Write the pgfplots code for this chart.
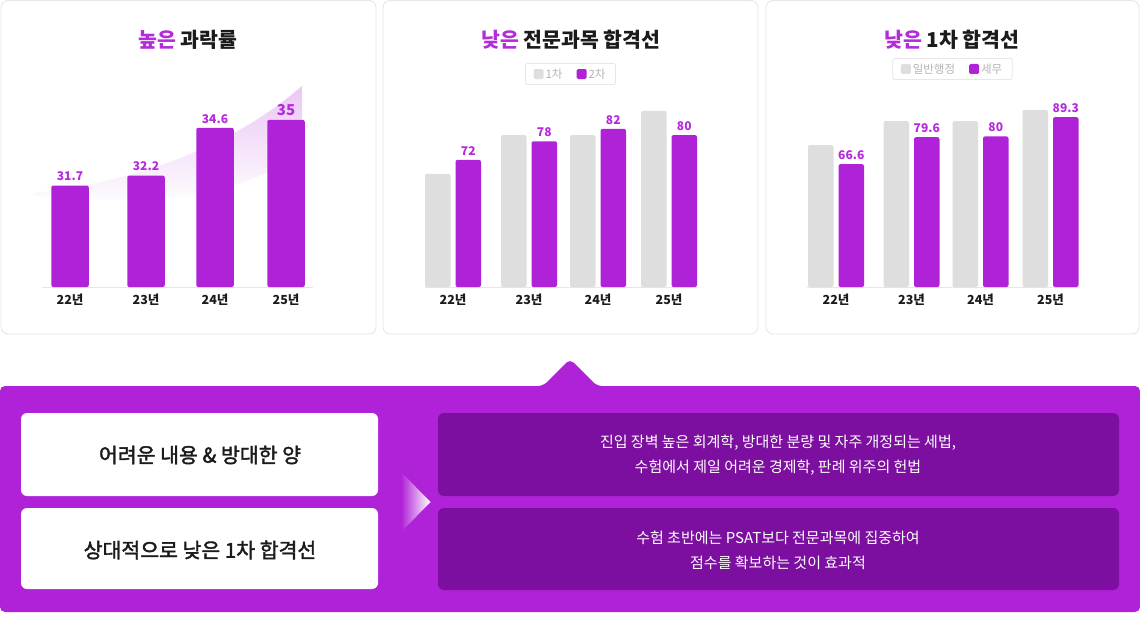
\documentclass[border=0pt]{standalone}
\usepackage{fontspec}
\setmainfont{Noto Sans CJK KR}
\newfontfamily\krmed[FakeBold=1.8]{Noto Sans CJK KR}
\usepackage{pgfplots}
\pgfplotsset{compat=1.18}
\definecolor{pp}{HTML}{B022D8}
\definecolor{ppt}{HTML}{B42BDC}
\definecolor{dk}{HTML}{7C0F9F}
\definecolor{gb}{HTML}{DEDEDE}
\definecolor{bd}{HTML}{E6E6EC}
\definecolor{txt}{HTML}{1B1B1B}
\definecolor{lg}{HTML}{B4B4B4}
\newcommand\fs[1]{\fontsize{#1}{#1}\selectfont}
\DeclareRobustCommand\bignum[1]{{\fontsize{15}{15}\selectfont #1}}

\pgfplotsset{
 panel/.style={
  scale only axis, height=200pt, anchor=south west,
  axis x line=bottom, axis y line=none,
  x axis line style={draw=bd, line width=0.8pt, -},
  major tick length=0pt, ytick=\empty,
  xticklabel style={font=\bfseries\fs{12.5}, text=txt, yshift=-3pt},
  ybar, nodes near coords, point meta=explicit symbolic,
  every node near coord/.append style={font=\bfseries\fs{12}, text=ppt, yshift=1pt},
 },
 mylegend/.style={
  legend style={at={(axis description cs:0.535,#1)}, anchor=center, draw=bd, line width=0.8pt,
   rounded corners=2pt, fill=white, legend columns=2, font=\fs{11.5}, text=lg,
   inner xsep=8pt, inner ysep=3pt,
   /tikz/every even column/.append style={column sep=12pt}},
 },
 sqgray/.style={legend image code/.code={\fill[gb, rounded corners=1.5pt] (0pt,-5pt) rectangle (10pt,5pt);}},
 sqpurple/.style={legend image code/.code={\fill[pp, rounded corners=1.5pt] (0pt,-5pt) rectangle (10pt,5pt);}},
}

\begin{document}
\begin{tikzpicture}
\begin{scope}[x=1pt,y=-1pt]
\path (0,0) rectangle (1140,618);
% panels
\foreach \a/\b in {1/376,383/758,766/1139}
  \draw[bd, line width=0.9pt, fill=white, rounded corners=7pt] (\a,0.5) rectangle (\b,334);
% swoosh
\shade[top color=pp!60, bottom color=white, opacity=0.42]
  (33,193) .. controls (150,180) and (240,140) .. (302,86) -- (302,150)
  .. controls (240,200) and (150,206) .. (33,196) -- cycle;
% titles
\node[font=\bfseries\fs{20.5}, text=txt] at (188,40) {{\color{ppt}높은} 과락률};
\node[font=\bfseries\fs{20.5}, text=txt] at (571,40) {{\color{ppt}낮은} 전문과목 합격선};
\node[font=\bfseries\fs{20.5}, text=txt] at (952,40) {{\color{ppt}낮은} 1차 합격선};
% bottom section
\fill[pp, rounded corners=5pt] (0,386) -- (543,386) -- (570,359) -- (597,386) -- (1140,386)
  -- (1140,612) -- (0,612) -- cycle;
\fill[white, rounded corners=6pt] (21,413) rectangle (378,496);
\fill[white, rounded corners=6pt] (21,508) rectangle (378,589);
\fill[dk, rounded corners=6pt] (438,413) rectangle (1119,496);
\fill[dk, rounded corners=6pt] (438,508) rectangle (1119,590);
\shade[left color=pp, right color=white] (401,472) -- (430.5,502) -- (401,532) -- cycle;
\node[font=\krmed\fs{20.5}, text=txt] at (200,455) {어려운 내용 \& 방대한 양};
\node[font=\krmed\fs{20.5}, text=txt] at (200,550) {상대적으로 낮은 1차 합격선};
\node[font=\fontsize{15}{25}\selectfont, text=white, align=center] at (778,455.5)
  {진입 장벽 높은 회계학, 방대한 분량 및 자주 개정되는 세법,\\수험에서 제일 어려운 경제학, 판례 위주의 헌법};
\node[font=\fontsize{15}{25}\selectfont, text=white, align=center] at (778,550)
  {수험 초반에는 PSAT보다 전문과목에 집중하여\\점수를 확보하는 것이 효과적};
\end{scope}

% panel 1
\begin{axis}[panel, at={(42pt,-287pt)}, width=271pt, xmin=42, xmax=313,
  ymin=26.6, ymax=36.65, bar width=37.5pt,
  xtick={70,146,215,286}, xticklabels={22년,23년,24년,25년}]
\addplot[fill=pp, draw=none, rounded corners=2pt] coordinates
  {(70,31.7)[31.7] (146,32.2)[32.2] (215,34.6)[34.6] (286,35)[\bignum{35}]};
\end{axis}

% panel 2
\begin{axis}[panel, mylegend=1.065, ybar=5pt, at={(425pt,-287pt)}, width=272pt, xmin=425, xmax=697,
  ymin=31, ymax=95.5, bar width=25.5pt,
  xtick={453,529,598,669}, xticklabels={22년,23년,24년,25년}]
\addplot[fill=gb, draw=none, rounded corners=2pt, sqgray] coordinates
  {(453,67.5)[] (529,80)[] (598,80)[] (669,87.8)[]};
\addlegendentry{1차}
\addplot[fill=pp, draw=none, rounded corners=2pt, sqpurple] coordinates
  {(453,72)[72] (529,78)[78] (598,82)[82] (669,80)[80]};
\addlegendentry{2차}
\end{axis}

% panel 3
\begin{axis}[panel, mylegend=1.09, ybar=5pt, at={(807pt,-287pt)}, width=272pt, xmin=807, xmax=1079,
  ymin=7.25, ymax=103.87, bar width=25.5pt,
  xtick={836,911.5,980.5,1050.5}, xticklabels={22년,23년,24년,25년}]
\addplot[fill=gb, draw=none, rounded corners=2pt, sqgray] coordinates
  {(836,75.8)[] (911.5,87.4)[] (980.5,87.4)[] (1050.5,92.8)[]};
\addlegendentry{일반행정}
\addplot[fill=pp, draw=none, rounded corners=2pt, sqpurple] coordinates
  {(836,66.6)[66.6] (911.5,79.6)[79.6] (980.5,80)[80] (1050.5,89.3)[89.3]};
\addlegendentry{세무}
\end{axis}
\end{tikzpicture}
\end{document}
